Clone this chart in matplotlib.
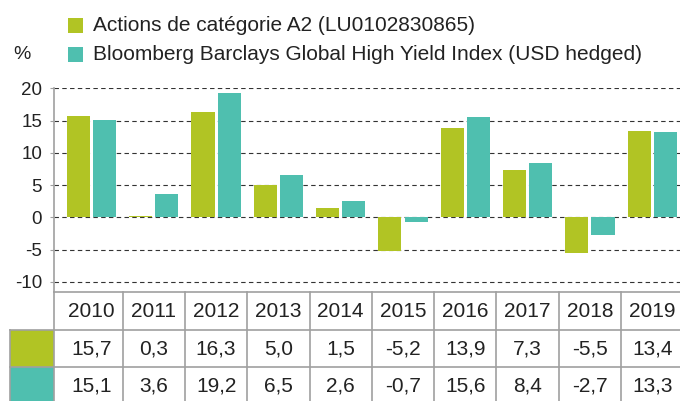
import numpy as np
import matplotlib
matplotlib.use("Agg")
import matplotlib.pyplot as plt
from matplotlib.patches import Rectangle

plt.rcParams["font.family"] = ["Liberation Sans", "DejaVu Sans"]

years = ["2010", "2011", "2012", "2013", "2014", "2015", "2016", "2017", "2018", "2019"]
fund = [15.7, 0.3, 16.3, 5.0, 1.5, -5.2, 13.9, 7.3, -5.5, 13.4]
index = [15.1, 3.6, 19.2, 6.5, 2.6, -0.7, 15.6, 8.4, -2.7, 13.3]
series_names = ["Actions de catégorie A2 (LU0102830865)",
                "Bloomberg Barclays Global High Yield Index (USD hedged)"]
y_ticks = [20, 15, 10, 5, 0, -5, -10]

GREEN = "#b1c424"
TEAL = "#4fbfaf"
TEXT = "#222222"
BORDER = "#a0a0a0"

W, H = 680, 401
fig = plt.figure(figsize=(W / 100, H / 100), dpi=100)


def fx(px):
    return px / W


def fy(py):
    return 1 - py / H


# bar chart area
left, right, top, bottom = 54, 680, 88, 292
ax = fig.add_axes([fx(left), fy(bottom), fx(right - left), (bottom - top) / H])
x = np.arange(len(years))
xlim = (-0.602, 9.446)
bw, off = 0.37, 0.21
ax.bar(x - off, fund, width=bw, color=GREEN, zorder=3)
ax.bar(x + off, index, width=bw, color=TEAL, zorder=3)
ax.set_xlim(*xlim)
ax.set_ylim(-11.55, 20.05)
ax.set_yticks(y_ticks)
ax.set_yticklabels([str(t) for t in y_ticks])
ax.set_xticks([])
for t in y_ticks:
    ax.axhline(t, color="#333333", lw=0.8, dashes=(4, 3), zorder=1)
for s in ["top", "right", "bottom"]:
    ax.spines[s].set_visible(False)
ax.spines["left"].set_color(BORDER)
ax.spines["left"].set_linewidth(1.2)
ax.spines["left"].set_bounds(-11.55, 20)
ax.tick_params(axis="y", length=3, width=0.8, color=BORDER, pad=5.5,
               labelsize=13.5, labelcolor=TEXT)

# table under the chart, same x scale
tab = fig.add_axes([fx(left), 0, fx(right - left), fy(bottom)])
tab.set_xlim(*xlim)
row_h = 37.5
tab.set_ylim((H - bottom) / row_h, 0)
tab.axis("off")
label_left = xlim[0] - (left - 10) / 62.3
edges = np.arange(len(years) + 1) - 0.5
edges[0] = xlim[0]
lw = 1.2
# colour swatches in the first column
for r, c in [(1, GREEN), (2, TEAL)]:
    tab.add_patch(Rectangle((label_left, r), xlim[0] - label_left, 1, facecolor=c,
                            edgecolor="none", clip_on=False, zorder=1))
# grid lines of the table
tab.plot([xlim[0], xlim[1] + 1], [0, 0], color=BORDER, lw=lw, clip_on=False)
for r in [1, 2]:
    tab.plot([label_left, xlim[1] + 1], [r, r], color=BORDER, lw=lw, clip_on=False, zorder=2)
for e in edges:
    tab.plot([e, e], [0, 3.2], color=BORDER, lw=lw, clip_on=False, zorder=2)
tab.plot([label_left, label_left], [1, 3.2], color=BORDER, lw=lw, clip_on=False, zorder=2)
# table text
for i, yr in enumerate(years):
    tab.text(x[i], 0.52, yr, ha="center", va="center", fontsize=15, color=TEXT)
    tab.text(x[i], 1.52, f"{fund[i]:.1f}".replace(".", ","), ha="center", va="center",
             fontsize=15, color=TEXT)
    tab.text(x[i], 2.52, f"{index[i]:.1f}".replace(".", ","), ha="center", va="center",
             fontsize=15, color=TEXT)

# legend and unit label
for py, c, name in [(25.5, GREEN, series_names[0]), (54.5, TEAL, series_names[1])]:
    fig.patches.append(Rectangle((fx(68), fy(py + 7.5)), fx(15), 15 / H, facecolor=c,
                                 edgecolor="none", transform=fig.transFigure))
    fig.text(fx(93), fy(py), name, ha="left", va="center", fontsize=15, color=TEXT)
fig.text(fx(13), fy(54.5), "%", ha="left", va="center", fontsize=14, color=TEXT)

fig.savefig("out.png", dpi=100)
